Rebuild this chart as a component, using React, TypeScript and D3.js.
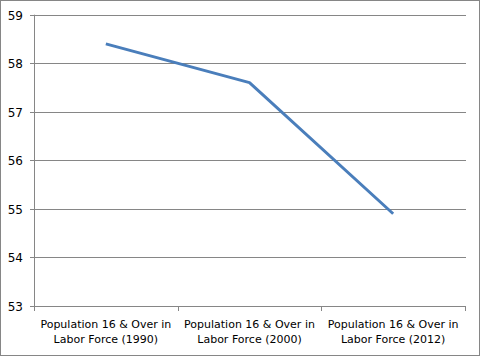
import React from "react";
import * as d3 from "d3";

const categories = [
  ["Population 16 & Over in", "Labor Force (1990)"],
  ["Population 16 & Over in", "Labor Force (2000)"],
  ["Population 16 & Over in", "Labor Force (2012)"],
];
const values = [58.4, 57.6, 54.9];
const yTicks = [53, 54, 55, 56, 57, 58, 59];

const W = 481;
const H = 357;
const left = 34;
const right = 465;
const top = 14.7;
const bottom = 306;

export default function App() {
  const x = d3
    .scaleBand<number>()
    .domain(values.map((_, i) => i))
    .range([left, right]);
  const y = d3.scaleLinear().domain([53, 59]).range([bottom, top]);
  const line = d3
    .line<number>()
    .x((_, i) => (x(i) as number) + x.bandwidth() / 2)
    .y((d) => y(d));
  const bounds = [...values.map((_, i) => x(i) as number), right];
  const grid = "#868686";
  const font = "'DejaVu Sans', Verdana, sans-serif";
  return (
    <svg
      width={W}
      height={H}
      style={{ position: "absolute", left: 0, top: 0, background: "#fff" }}
    >
      <rect x={0.5} y={0.5} width={W - 2} height={H - 2} fill="#fff" stroke={grid} />
      {yTicks.map((t) => (
        <g key={t}>
          <line
            x1={left - 4}
            x2={t === 53 ? right : right + 1}
            y1={Math.round(y(t)) + 0.5}
            y2={Math.round(y(t)) + 0.5}
            stroke={grid}
          />
          <text
            x={23}
            y={Math.round(y(t)) + 4.5}
            textAnchor="end"
            fontFamily={font}
            fontSize={12}
            fill="#000"
          >
            {t}
          </text>
        </g>
      ))}
      <line x1={left + 0.5} x2={left + 0.5} y1={top} y2={bottom} stroke={grid} />
      {bounds.map((b, i) => (
        <line
          key={i}
          x1={Math.round(b) + 0.5}
          x2={Math.round(b) + 0.5}
          y1={bottom}
          y2={bottom + 5}
          stroke={grid}
        />
      ))}
      {categories.map((c, i) => (
        <text
          key={i}
          textAnchor="middle"
          fontFamily={font}
          fontSize={11}
          fill="#000"
        >
          {c.map((l, j) => (
            <tspan
              key={j}
              x={(x(i) as number) + x.bandwidth() / 2}
              y={328 + j * 15}
            >
              {l}
            </tspan>
          ))}
        </text>
      ))}
      <path
        d={line(values) || ""}
        fill="none"
        stroke="#4A7EBB"
        strokeWidth={3}
        strokeLinejoin="round"
      />
    </svg>
  );
}
